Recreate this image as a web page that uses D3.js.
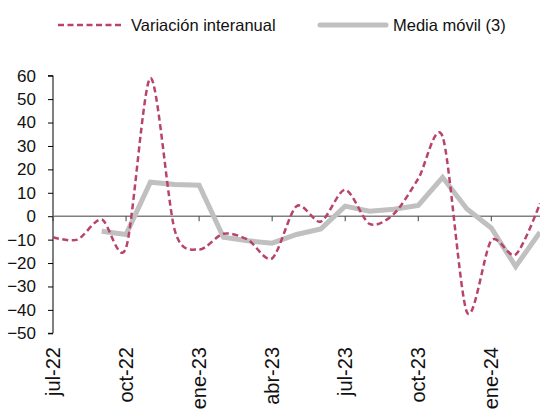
<!DOCTYPE html>
<html>
<head>
<meta charset="utf-8">
<script src="https://cdn.jsdelivr.net/npm/d3@7"></script>
<style>
  body { margin: 0; background: #fff; }
  svg { display: block; font-family: "Liberation Sans", Arial, sans-serif; }
</style>
</head>
<body>
<div id="chart"></div>
<script>
// Monthly data, jul-22 .. mar-24
const months = ['jul-22', 'ago-22', 'sep-22', 'oct-22', 'nov-22', 'dic-22', 'ene-23',
  'feb-23', 'mar-23', 'abr-23', 'may-23', 'jun-23', 'jul-23', 'ago-23', 'sep-23',
  'oct-23', 'nov-23', 'dic-23', 'ene-24', 'feb-24', 'mar-24'];
const interanual = [-9, -10, -1.4, -13.5, 59, -6, -14.2, -7.5, -10, -18, 4.3, -2.3, 11.3,
  -3.3, 1, 16, 34, -41, -10.4, -16.4, 5.4];
const mediaMovil = [null, null, -6.4, -7.8, 14.5, 13.5, 13.2, -9, -10.5, -11.5, -7.8, -5.4,
  4.3, 2.1, 3, 4.6, 16.6, 3.1, -5, -21.5, -6.8];
const tickLabels = ['jul-22', 'oct-22', 'ene-23', 'abr-23', 'jul-23', 'oct-23', 'ene-24'];
const yTicks = [60, 50, 40, 30, 20, 10, 0, -10, -20, -30, -40, -50];

const width = 540, height = 410;
const svg = d3.select('#chart').append('svg')
  .attr('width', width).attr('height', height);

const x = d3.scaleLinear().domain([0, months.length - 1]).range([53, 540]);
const y = d3.scaleLinear().domain([-50, 60]).range([333.3, 75.7]);

// y axis
const yAxis = svg.append('g')
  .attr('transform', 'translate(53,0)')
  .call(d3.axisLeft(y).tickValues(yTicks).tickSize(5).tickPadding(12).tickFormat(d3.format('d')));
yAxis.select('.domain').attr('stroke', '#000').attr('d', `M-5,${y(60)}H0V${y(-50)}H-5`);
yAxis.selectAll('.tick line').attr('stroke', '#000');
yAxis.selectAll('.tick text').attr('fill', '#111').style('font-size', '17px');

// x axis along zero
const xAxis = svg.append('g').attr('transform', `translate(0,${y(0)})`);
xAxis.append('line')
  .attr('x1', 53).attr('x2', 540)
  .attr('stroke', '#808080').attr('stroke-width', 1.5);
xAxis.selectAll('.xt')
  .data(tickLabels)
  .join('line')
  .attr('x1', d => x(months.indexOf(d))).attr('x2', d => x(months.indexOf(d)))
  .attr('y1', 0).attr('y2', 5)
  .attr('stroke', '#404040');

// x labels at the bottom, rotated
svg.append('g').selectAll('text')
  .data(tickLabels)
  .join('text')
  .attr('transform', d => `translate(${x(months.indexOf(d))},347) rotate(-90)`)
  .attr('text-anchor', 'end')
  .attr('dy', '0.35em')
  .attr('fill', '#111')
  .style('font-size', '20px')
  .text(d => d);

// moving average (gray)
const grayLine = d3.line()
  .defined(d => d != null)
  .x((d, i) => x(i))
  .y(d => y(d));
svg.append('path')
  .datum(mediaMovil)
  .attr('d', grayLine)
  .attr('fill', 'none')
  .attr('stroke', '#c0c0c0')
  .attr('stroke-width', 5);

// year-on-year (dashed, smoothed)
const dashLine = d3.line()
  .x((d, i) => x(i))
  .y(d => y(d))
  .curve(d3.curveCardinal.tension(0.15));
svg.append('path')
  .datum(interanual)
  .attr('d', dashLine)
  .attr('fill', 'none')
  .attr('stroke', '#b9446a')
  .attr('stroke-width', 2.5)
  .attr('stroke-dasharray', '6,3.5');

// legend
const legend = svg.append('g');
legend.append('line')
  .attr('x1', 58).attr('x2', 124).attr('y1', 25).attr('y2', 25)
  .attr('stroke', '#b9446a').attr('stroke-width', 2.5).attr('stroke-dasharray', '6,3.5');
legend.append('text')
  .attr('x', 131).attr('y', 31)
  .attr('fill', '#111').style('font-size', '16.5px')
  .text('Variación interanual');
legend.append('line')
  .attr('x1', 320).attr('x2', 386).attr('y1', 25).attr('y2', 25)
  .attr('stroke', '#c0c0c0').attr('stroke-width', 5).attr('stroke-linecap', 'round');
legend.append('text')
  .attr('x', 393).attr('y', 31)
  .attr('fill', '#111').style('font-size', '16.5px')
  .text('Media móvil (3)');
</script>
</body>
</html>
